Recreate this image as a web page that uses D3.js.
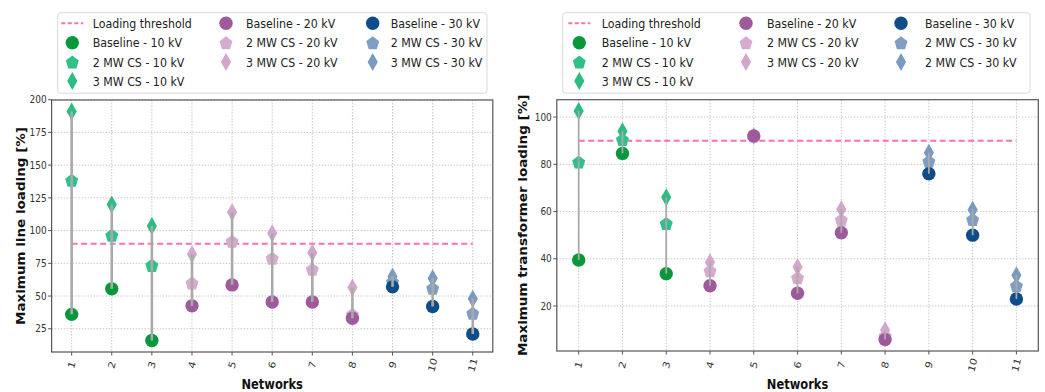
<!DOCTYPE html>
<html>
<head>
<meta charset="UTF-8">
<title>Maximum line and transformer loading</title>
<style>
  body { margin: 0; background: #fff; }
  svg { display: block; font-family: 'DejaVu Sans', sans-serif; }
</style>
</head>
<body>
<svg width="1045" height="392"></svg>
<script src="https://cdn.jsdelivr.net/npm/d3@7"></script>
<script>
// data
const networks = [1, 2, 3, 4, 5, 6, 7, 8, 9, 10, 11];
const networkLevel = [0, 0, 0, 1, 1, 1, 1, 1, 2, 2, 2]; // 10 / 20 / 30 kV
const threshold = 90;

const lineBaseline = [36, 55.5, 16, 42.5, 58.5, 45.5, 45.5, 33, 57, 42, 21];
const lineCS2 = [138.5, 96.5, 73.5, 60, 92, 79, 70.5, 36, 61, 56, 37];
const lineCS3 = [191, 120, 103.5, 82, 114, 98, 83, 56.5, 65, 63.5, 48];

const trafoBaseline = [39.5, 84.6, 33.7, 28.6, 92, 25.4, 51, 5.8, 76, 50, 23];
const trafoCS2 = [81, 90.5, 55, 35, 92, 32, 56.5, 7.5, 81.3, 56.7, 28.6];
const trafoCS3 = [102.5, 94, 66, 38.5, 92, 36.5, 61, 9.8, 84.9, 60.8, 33];

const lineTicks = [25, 50, 75, 100, 125, 150, 175, 200];
const trafoTicks = [20, 40, 60, 80, 100];

const legendLeft = [
  ["Loading threshold", "Baseline - 10 kV", "2 MW CS - 10 kV", "3 MW CS - 10 kV"],
  ["Baseline - 20 kV", "2 MW CS - 20 kV", "3 MW CS - 20 kV"],
  ["Baseline - 30 kV", "2 MW CS - 30 kV", "3 MW CS - 30 kV"]
];
const legendRight = [
  ["Loading threshold", "Baseline - 10 kV", "2 MW CS - 10 kV", "3 MW CS - 10 kV"],
  ["Baseline - 20 kV", "2 MW CS - 20 kV", "3 MW CS - 20 kV"],
  ["Baseline - 30 kV", "2 MW CS - 30 kV", "2 MW CS - 30 kV"]
];

// colours per voltage level: baseline, 2 MW, 3 MW
const colors = [
  ["#07983b", "#31c08a", "#2cbb82"],
  ["#9e5a9a", "#d7abcf", "#d3a6cc"],
  ["#0f4d89", "#7f9ec1", "#7a9abe"]
];
const pink = "#ff6fb0";
const sx = 0.85; // the figure is squeezed horizontally

const svg = d3.select("svg");

function markerPath(kind) {
  if (kind === 0) { // circle
    const p = d3.path(); p.arc(0, 0, 6.7, 0, 2 * Math.PI); return p.toString();
  }
  if (kind === 1) { // pentagon
    const r = 7.2;
    const pts = d3.range(5).map(i => {
      const a = -Math.PI / 2 + i * 2 * Math.PI / 5;
      return [r * Math.cos(a) * 0.95, r * Math.sin(a) + 0.8];
    });
    return "M" + pts.map(p => p.join(",")).join("L") + "Z";
  }
  // thin diamond
  return "M0,-9L5.1,0L0,9L-5.1,0Z";
}

function label(g, x, y, txt, size, opts = {}) {
  const t = g.append("g")
    .attr("transform", `translate(${x},${y}) scale(${sx},1)` + (opts.rotate ? ` rotate(${opts.rotate})` : ""))
    .append("text")
    .attr("font-size", size)
    .attr("fill", opts.fill || "#222")
    .attr("font-weight", opts.bold ? "bold" : null)
    .attr("text-anchor", opts.anchor || "start")
    .attr("dy", "0.35em")
    .text(txt);
  return t;
}

function drawPanel(cfg) {
  const g = svg.append("g");
  const x = d3.scaleLinear().domain([0.5, 11.5]).range([cfg.x0, cfg.x1]);
  const all = cfg.series.flat();
  const lo = d3.min(all), hi = d3.max(all), m = (hi - lo) * 0.05;
  const y = d3.scaleLinear().domain([lo - m, hi + m]).range([cfg.y1, cfg.y0]);

  // grid
  g.selectAll(".vg").data(networks).join("line")
    .attr("x1", d => x(d)).attr("x2", d => x(d))
    .attr("y1", cfg.y0).attr("y2", cfg.y1)
    .attr("stroke", "#c8c8c8").attr("stroke-width", 1).attr("stroke-dasharray", "1.5,1.5");
  g.selectAll(".hg").data(cfg.ticks).join("line")
    .attr("x1", cfg.x0).attr("x2", cfg.x1)
    .attr("y1", d => y(d)).attr("y2", d => y(d))
    .attr("stroke", "#c8c8c8").attr("stroke-width", 1).attr("stroke-dasharray", "1.5,1.5");

  // threshold
  g.append("line")
    .attr("x1", x(networks[0])).attr("x2", x(networks[networks.length - 1]))
    .attr("y1", y(threshold)).attr("y2", y(threshold))
    .attr("stroke", pink).attr("stroke-width", 2).attr("stroke-dasharray", "6,3.5");

  // markers: 3 MW, 2 MW, baseline
  [2, 1, 0].forEach(s => {
    g.selectAll(".m" + s).data(networks).join("path")
      .attr("d", markerPath(s))
      .attr("transform", (d, i) => `translate(${x(d)},${y(cfg.series[s][i])})`)
      .attr("fill", (d, i) => colors[networkLevel[i]][s]);
  });

  // range lines
  g.selectAll(".rl").data(networks).join("line")
    .attr("x1", d => x(d)).attr("x2", d => x(d))
    .attr("y1", (d, i) => y(d3.min(cfg.series, a => a[i])))
    .attr("y2", (d, i) => y(d3.max(cfg.series, a => a[i])))
    .attr("stroke", "#a9a9a9").attr("stroke-width", cfg.lw);

  // frame
  g.append("rect").attr("x", cfg.x0).attr("y", cfg.y0)
    .attr("width", cfg.x1 - cfg.x0).attr("height", cfg.y1 - cfg.y0)
    .attr("fill", "none").attr("stroke", "#555").attr("stroke-width", 1.2);

  // ticks
  cfg.ticks.forEach(t => {
    g.append("line").attr("x1", cfg.x0 - 3.5).attr("x2", cfg.x0)
      .attr("y1", y(t)).attr("y2", y(t)).attr("stroke", "#555");
    label(g, cfg.x0 - 5, y(t), t, 10.5, { anchor: "end", fill: "#333" });
  });
  networks.forEach(n => {
    g.append("line").attr("x1", x(n)).attr("x2", x(n))
      .attr("y1", cfg.y1).attr("y2", cfg.y1 + 3.5).attr("stroke", "#555");
    label(g, x(n), 365, n, 11, { anchor: "middle", fill: "#333", rotate: -75 });
  });

  label(g, (cfg.x0 + cfg.x1) / 2, 384, "Networks", 13.5, { anchor: "middle", bold: true, fill: "#111" });
  label(g, cfg.ylx, (cfg.y0 + cfg.y1) / 2, cfg.ylabel, 13.5, { anchor: "middle", bold: true, fill: "#111", rotate: -90 });

  // legend
  const L = cfg.legend;
  g.append("rect").attr("x", L.x).attr("y", 12.7).attr("width", L.w).attr("height", 80.5)
    .attr("rx", 3).attr("fill", "#fff").attr("stroke", "#d9d9d9");
  const rows = [23.3, 42.7, 62, 81];
  cfg.legendLabels.forEach((col, c) => {
    col.forEach((txt, r) => {
      const yy = rows[r];
      if (c === 0 && r === 0) {
        g.append("line").attr("x1", L.mx[0] - 11).attr("x2", L.mx[0] + 11)
          .attr("y1", yy).attr("y2", yy)
          .attr("stroke", pink).attr("stroke-width", 2).attr("stroke-dasharray", "4,2.5");
      } else {
        const s = c === 0 ? r - 1 : r;
        g.append("path").attr("d", markerPath(s))
          .attr("transform", `translate(${L.mx[c]},${yy})`)
          .attr("fill", colors[c][s]);
      }
      label(g, L.tx[c], yy, txt, 13, { fill: "#222" });
    });
  });
}

drawPanel({
  x0: 51.6, x1: 492.8, y0: 100, y1: 352,
  series: [lineBaseline, lineCS2, lineCS3],
  ticks: lineTicks, lw: 2.6,
  ylabel: "Maximum line loading [%]", ylx: 21,
  legend: { x: 57.7, w: 429.3, mx: [72.3, 226, 372.7], tx: [92.7, 246, 390.7] },
  legendLabels: legendLeft
});

drawPanel({
  x0: 556.8, x1: 1038.3, y0: 99.7, y1: 351,
  series: [trafoBaseline, trafoCS2, trafoCS3],
  ticks: trafoTicks, lw: 1.8,
  ylabel: "Maximum transformer loading [%]", ylx: 523,
  legend: { x: 562.7, w: 467.3, mx: [579.3, 746, 901], tx: [601.7, 767, 925] },
  legendLabels: legendRight
});
</script>
</body>
</html>
